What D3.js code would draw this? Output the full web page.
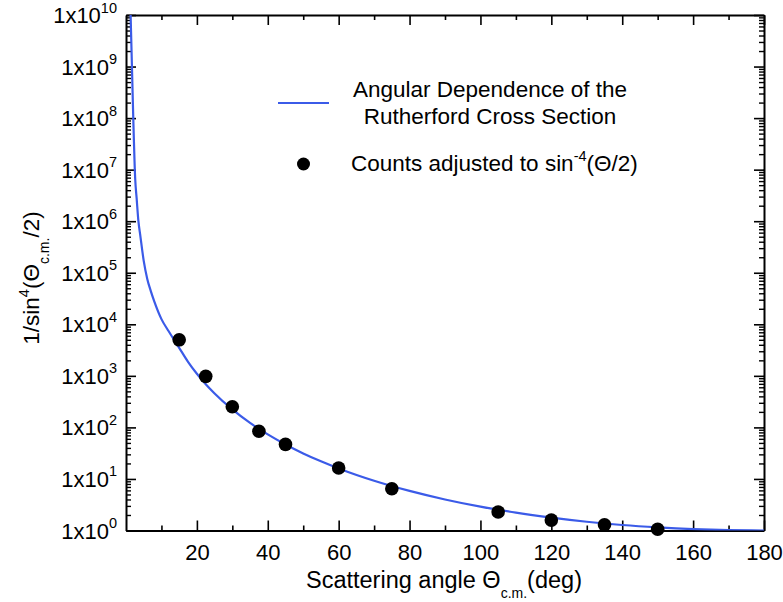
<!DOCTYPE html>
<html><head><meta charset="utf-8">
<script src="https://cdn.jsdelivr.net/npm/d3@7"></script>
<style>
html,body{margin:0;padding:0;background:#fff;}
svg text{font-family:"Liberation Sans",Arial,Helvetica,sans-serif;fill:#000;}
</style></head>
<body><svg id="c" width="783" height="602"></svg>
<script>
// Data
const pointAngles = [15, 22.5, 30, 37.5, 45, 60, 75, 105, 120, 135, 150];
const pointCounts = [5000, 977, 252, 84, 46.8, 16.3, 6.45, 2.28, 1.59, 1.29, 1.06];
const curveAngles = [1.3, 1.6, 2.05, 2.6, 3.0, 3.5, 4.0, 5.0, 6.0, 7.0, 8.0, 10, 12, 15, 17.5, 20, 22.5, 25, 30, 35, 40, 45, 50, 55, 60, 70, 80, 90, 100, 110, 120, 130, 140, 150, 160, 170, 180];
const curveValues = [1e10, 1.6e9, 1e8, 6.5e6, 2.8e6, 1.0e6, 5.5e5, 1.7e5, 7.6e4, 4.4e4, 2.75e4, 1.26e4, 7.4e3, 3.5e3, 1870, 1100, 690, 456, 223, 122, 73.1, 46.6, 31.3, 22.0, 16.0, 9.24, 5.86, 4.0, 2.90, 2.22, 1.78, 1.48, 1.28, 1.15, 1.063, 1.015, 1.0];
const xMajorTicks = [20, 40, 60, 80, 100, 120, 140, 160, 180];
const xMinorTicks = [10, 30, 50, 70, 90, 110, 130, 150, 170];
const yDecadeExponents = [0, 1, 2, 3, 4, 5, 6, 7, 8, 9, 10];
const legendLineLabel = ["Angular Dependence of the", "Rutherford Cross Section"];

const svg = d3.select("#c");
const L = 126, R = 764, T = 15, B = 530.5;
const x = d3.scaleLinear().domain([0, 180]).range([L, R]);
const y = d3.scaleLog().domain([1, 1e10]).range([B, T]);

const yMajor = yDecadeExponents.map(e => Math.pow(10, e));
const yMinor = [];
yDecadeExponents.slice(0, -1).forEach(e => { for (let k = 2; k <= 9; k++) yMinor.push(k * Math.pow(10, e)); });

const blue = "#3b5be8";
const fs = 22;

function styleAxis(g, w) {
  g.selectAll("path.domain").attr("stroke", "#000").attr("stroke-width", 2);
  g.selectAll(".tick line").attr("stroke", "#000").attr("stroke-width", w || 1.6);
}

// Bottom axis (major with labels)
const gb = svg.append("g").attr("transform", `translate(0,${B})`)
  .call(d3.axisBottom(x).tickValues(xMajorTicks).tickSizeInner(-10).tickSizeOuter(0).tickPadding(14).tickFormat(d3.format("d")));
styleAxis(gb);
gb.selectAll("text").attr("font-size", fs).attr("font-family", '"Liberation Sans",Arial,sans-serif');
svg.append("g").attr("transform", `translate(0,${B})`)
  .call(d3.axisBottom(x).tickValues(xMinorTicks).tickSizeInner(-5).tickSizeOuter(0).tickFormat(""))
  .call(g => { styleAxis(g); g.select("path.domain").remove(); });

// Top axis
const gt = svg.append("g").attr("transform", `translate(0,${T})`)
  .call(d3.axisTop(x).tickValues(xMajorTicks).tickSizeInner(-10).tickSizeOuter(0).tickFormat(""));
styleAxis(gt);
svg.append("g").attr("transform", `translate(0,${T})`)
  .call(d3.axisTop(x).tickValues(xMinorTicks).tickSizeInner(-5).tickSizeOuter(0).tickFormat(""))
  .call(g => { styleAxis(g); g.select("path.domain").remove(); });

// Left axis
const gl = svg.append("g").attr("transform", `translate(${L},0)`)
  .call(d3.axisLeft(y).tickValues(yMajor).tickSizeInner(-10).tickSizeOuter(0).tickFormat(""));
styleAxis(gl);
svg.append("g").attr("transform", `translate(${L},0)`)
  .call(d3.axisLeft(y).tickValues(yMinor).tickSizeInner(-5).tickSizeOuter(0).tickFormat(""))
  .call(g => { styleAxis(g, 1.4); g.select("path.domain").remove(); });

// Right axis
const gr = svg.append("g").attr("transform", `translate(${R},0)`)
  .call(d3.axisRight(y).tickValues(yMajor).tickSizeInner(-10).tickSizeOuter(0).tickFormat(""));
styleAxis(gr);
svg.append("g").attr("transform", `translate(${R},0)`)
  .call(d3.axisRight(y).tickValues(yMinor).tickSizeInner(-5).tickSizeOuter(0).tickFormat(""))
  .call(g => { styleAxis(g, 1.4); g.select("path.domain").remove(); });

// Y tick labels 1x10^n
const yl = svg.append("g");
yDecadeExponents.forEach(e => {
  const t = yl.append("text").attr("x", 117).attr("y", y(Math.pow(10, e)) + 8)
    .attr("text-anchor", "end").attr("font-size", fs);
  t.append("tspan").text("1x10");
  t.append("tspan").attr("font-size", 14.5).attr("dy", -10.5).text(e);
});

// Clip
svg.append("clipPath").attr("id", "clip").append("rect")
  .attr("x", L).attr("y", T).attr("width", R - L).attr("height", B - T);

// Curve
const curveData = curveAngles.map((a, i) => [a, curveValues[i]]);
svg.append("path").datum(curveData)
  .attr("clip-path", "url(#clip)")
  .attr("fill", "none").attr("stroke", blue).attr("stroke-width", 2.2)
  .attr("d", d3.line().x(d => x(d[0])).y(d => y(d[1])).curve(d3.curveMonotoneX));

// Points
svg.append("g").selectAll("circle")
  .data(pointAngles.map((a, i) => [a, pointCounts[i]]))
  .join("circle")
  .attr("cx", d => x(d[0])).attr("cy", d => y(d[1])).attr("r", 6.8).attr("fill", "#000");

// Axis titles
const xt = svg.append("text").attr("x", (L + R) / 2 - 1).attr("y", 588).attr("text-anchor", "middle").attr("font-size", 23.5);
xt.append("tspan").text("Scattering angle Θ");
xt.append("tspan").attr("font-size", 14).attr("dy", 10).text("c.m.");
xt.append("tspan").attr("dy", -10).text("(deg)");

const ytt = svg.append("text").attr("transform", `translate(39,278) rotate(-90)`)
  .attr("text-anchor", "middle").attr("font-size", 22.5);
ytt.append("tspan").text("1/sin");
ytt.append("tspan").attr("font-size", 14.5).attr("dy", -10.5).text("4");
ytt.append("tspan").attr("dy", 10.5).text("(Θ");
ytt.append("tspan").attr("font-size", 14).attr("dy", 10).text("c.m.");
ytt.append("tspan").attr("dy", -10).text("/2)");

// Legend
const lg = svg.append("g");
lg.append("line").attr("x1", 278).attr("x2", 329).attr("y1", 103).attr("y2", 103)
  .attr("stroke", blue).attr("stroke-width", 2.2);
legendLineLabel.forEach((s, i) => {
  lg.append("text").attr("x", 490).attr("y", 97 + i * 27).attr("text-anchor", "middle")
    .attr("font-size", 22.5).text(s);
});
lg.append("circle").attr("cx", 303.5).attr("cy", 164).attr("r", 6.5).attr("fill", "#000");
const lt = lg.append("text").attr("x", 351).attr("y", 171).attr("font-size", 22.5);
lt.append("tspan").text("Counts adjusted to sin");
lt.append("tspan").attr("font-size", 14.5).attr("dy", -10).text("-4");
lt.append("tspan").attr("dy", 10).text("(Θ/2)");
</script></body></html>
